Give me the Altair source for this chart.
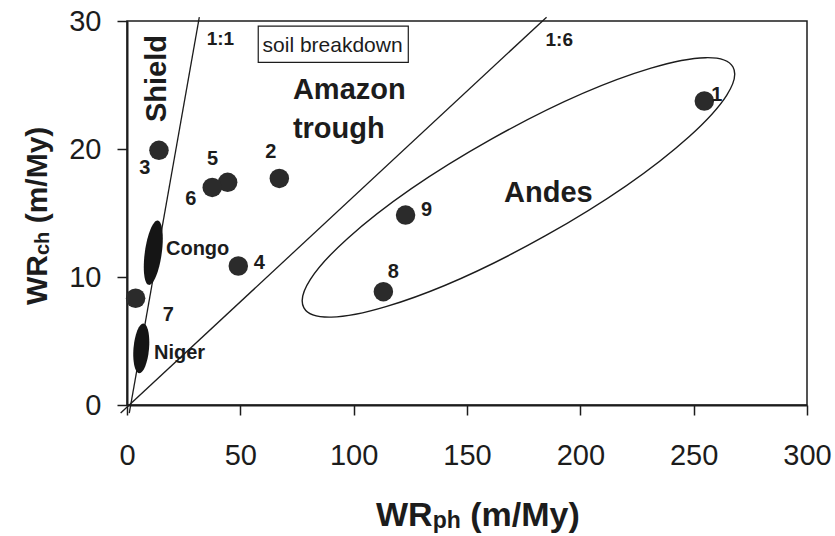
import altair as alt
import pandas as pd

# ---------------- data ----------------
site_ids = ["1", "2", "3", "4", "5", "6", "7", "8", "9"]
wr_ph = [254.7, 67.2, 14.1, 49.1, 44.4, 37.6, 3.8, 113.1, 122.9]
wr_ch = [23.75, 17.7, 19.9, 10.86, 17.4, 17.0, 8.34, 8.85, 14.84]

# where each site number is written (data units)
label_ph = [260.2, 63.5, 7.9, 58.4, 37.8, 28.1, 18.2, 117.5, 132.2]
label_ch = [24.2, 19.8, 18.5, 11.1, 19.2, 16.1, 7.0, 10.4, 15.2]

# reference ratio lines
ref_names = ["1:1", "1:6"]
ref_ph_start = [1.0, -2.8]
ref_ch_start = [-0.63, -0.63]
ref_ph_end = [31.9, 185.1]
ref_ch_end = [30.3, 30.3]
ref_label_ph = [41.2, 190.7]
ref_label_ch = [28.1, 28.07]

# river fields (ellipses) and their labels
river_names = ["Congo", "Niger"]
river_ph = [11.6, 6.3]
river_ch = [11.9, 4.43]
river_label_ph = [17.2, 11.9]
river_label_ch = [12.16, 4.04]

# Andes field
andes_ph = [172.7]
andes_ch = [17.0]

# region names
region_names = ["Amazon", "trough", "Andes"]
region_ph = [73.2, 73.2, 185.9]
region_ch = [23.88, 20.88, 15.88]

shield_ph = [17.0]
shield_ch = [25.5]

box_text = ["soil breakdown"]
box_ph = [57.9]
box_ph2 = [124.1]
box_ch = [29.6]
box_ch2 = [26.77]
box_text_ph = [90.7]
box_text_ch = [27.6]

x_ticks = [0, 50, 100, 150, 200, 250, 300]
y_ticks = [0, 10, 20, 30]

# ---------------- styling ----------------
INK = "#1c1c1c"
DOT = "#2b2b2b"
FONT = "Liberation Sans"

xs = alt.Scale(domain=[0, 300], nice=False, zero=False)
ys = alt.Scale(domain=[0, 30], nice=False, zero=False)
x_axis = alt.Axis(values=x_ticks, title=None, grid=False, tickSize=10, tickWidth=1.5,
                  domainWidth=2, domainColor=INK, tickColor=INK, labelFont=FONT,
                  labelFontSize=29, labelColor=INK, labelPadding=26, labelFlush=False,
                  labelOverlap=False)
y_axis = alt.Axis(values=y_ticks, title=None, grid=False, tickSize=10, tickWidth=1.5,
                  domainWidth=2, domainColor=INK, tickColor=INK, labelFont=FONT,
                  labelFontSize=29, labelColor=INK, labelPadding=16, labelFlush=False,
                  labelOverlap=False)


def X(f):
    return alt.X(f, type="quantitative", scale=xs, axis=x_axis)


def Y(f):
    return alt.Y(f, type="quantitative", scale=ys, axis=y_axis)


def ellipse_path(rx, ry):
    k = 0.5523
    return (f"M{-rx},0 C{-rx},{-k*ry} {-k*rx},{-ry} 0,{-ry} "
            f"C{k*rx},{-ry} {rx},{-k*ry} {rx},0 "
            f"C{rx},{k*ry} {k*rx},{ry} 0,{ry} "
            f"C{-k*rx},{ry} {-rx},{k*ry} {-rx},0 Z")


pts = pd.DataFrame({"id": site_ids, "ph": wr_ph, "ch": wr_ch,
                    "lph": label_ph, "lch": label_ch})
refs = pd.DataFrame({"name": ref_names, "x1": ref_ph_start, "y1": ref_ch_start,
                     "x2": ref_ph_end, "y2": ref_ch_end,
                     "lx": ref_label_ph, "ly": ref_label_ch})
rivers = pd.DataFrame({"name": river_names, "ph": river_ph, "ch": river_ch,
                       "lx": river_label_ph, "ly": river_label_ch})
andes = pd.DataFrame({"ph": andes_ph, "ch": andes_ch})
regions = pd.DataFrame({"name": region_names, "ph": region_ph, "ch": region_ch})
shield = pd.DataFrame({"name": ["Shield"], "ph": shield_ph, "ch": shield_ch})
box = pd.DataFrame({"t": box_text, "x1": box_ph, "x2": box_ph2, "y1": box_ch,
                    "y2": box_ch2, "tx": box_text_ph, "ty": box_text_ch})
one = pd.DataFrame({"k": [0]})

ref_lines = alt.Chart(refs).mark_rule(color=INK, strokeWidth=1.3).encode(
    x=X("x1"), y=Y("y1"), x2="x2", y2="y2")
ref_text = alt.Chart(refs).mark_text(font=FONT, fontSize=19, fontWeight="bold",
                                     color=INK, baseline="alphabetic").encode(
    x=X("lx"), y=Y("ly"), text="name")

congo = alt.Chart(rivers.iloc[[0]]).mark_point(
    shape=ellipse_path(0.26, 1), size=4225, filled=True, fill="#151515",
    opacity=1, strokeWidth=0, angle=8).encode(x=X("ph"), y=Y("ch"))
niger = alt.Chart(rivers.iloc[[1]]).mark_point(
    shape=ellipse_path(0.31, 1), size=2500, filled=True, fill="#151515",
    opacity=1, strokeWidth=0, angle=5).encode(x=X("ph"), y=Y("ch"))
river_text = alt.Chart(rivers).mark_text(font=FONT, fontSize=20, fontWeight="bold",
                                         color=INK, align="left",
                                         baseline="middle").encode(
    x=X("lx"), y=Y("ly"), text="name")

andes_shape = alt.Chart(andes).mark_point(
    shape=ellipse_path(1, 0.225), size=242064, filled=False, stroke=INK,
    strokeWidth=1.4, opacity=1, angle=330.7).encode(x=X("ph"), y=Y("ch"))

points = alt.Chart(pts).mark_circle(size=380, color=DOT, opacity=1).encode(
    x=X("ph"), y=Y("ch"))
point_text = alt.Chart(pts).mark_text(font=FONT, fontSize=20, fontWeight="bold",
                                      color=INK, baseline="middle").encode(
    x=X("lph"), y=Y("lch"), text="id")

region_left = alt.Chart(regions.iloc[0:2]).mark_text(
    font=FONT, fontSize=29, fontWeight="bold", color=INK, align="left",
    baseline="alphabetic").encode(x=X("ph"), y=Y("ch"), text="name")
region_center = alt.Chart(regions.iloc[[2]]).mark_text(
    font=FONT, fontSize=29, fontWeight="bold", color=INK, align="center",
    baseline="alphabetic").encode(x=X("ph"), y=Y("ch"), text="name")
shield_text = alt.Chart(shield).mark_text(
    font=FONT, fontSize=29, fontWeight="bold", color=INK, align="center",
    baseline="alphabetic", angle=270).encode(x=X("ph"), y=Y("ch"), text="name")

box_rect = alt.Chart(box).mark_rect(fill="white", stroke=INK, strokeWidth=1.2).encode(
    x=X("x1"), x2="x2", y=Y("y1"), y2="y2")
box_label = alt.Chart(box).mark_text(font=FONT, fontSize=21, color=INK,
                                     baseline="alphabetic").encode(
    x=X("tx"), y=Y("ty"), text="t")

# ---------------- axis titles with subscripts ----------------
ARIAL_BOLD = {"W": 0.944, "R": 0.722, "p": 0.611, "h": 0.611, "c": 0.556,
              " ": 0.278, "(": 0.333, "m": 0.889, "/": 0.278, "M": 0.833,
              "y": 0.556, ")": 0.333}


def tw(s, size):
    return sum(ARIAL_BOLD[c] for c in s) * size


def part(txt, px, py, size, angle=0):
    kw = dict(font=FONT, fontSize=size, fontWeight="bold", color=INK,
              align="left", baseline="alphabetic")
    if angle:
        kw["angle"] = angle
    return alt.Chart(one).mark_text(**kw).encode(
        x=alt.value(px), y=alt.value(py), text=alt.value(txt))


XF, XS = 34, 23
x0, xb = 249, 505
xa = x0 + tw("WR", XF)
xc = xa + tw("ph", XS) + tw(" ", XF)
xt = [part("WR", x0, xb, XF),
      part("ph", xa, xb + 2, XS),
      part("(m/My)", xc, xb, XF)]

YF, YS = 30, 20
yb, y0 = -80, 284
ya = y0 - tw("WR", YF)
yc = ya - tw("ch", YS) - tw(" ", YF)
yt = [part("WR", yb, y0, YF, 270),
      part("ch", yb + 2, ya, YS, 270),
      part("(m/My)", yb, yc, YF, 270)]

chart = alt.layer(
    ref_lines, andes_shape, congo, niger, points, point_text, ref_text,
    river_text, region_left, region_center, shield_text, box_rect, box_label,
    *xt, *yt
).properties(
    width=680, height=384,
    padding={"left": 127, "top": 21, "right": 28, "bottom": 131},
    autosize=alt.AutoSizeParams(type="none"),
    background="white",
).configure_view(stroke=INK, strokeWidth=1.5)

chart.save("out.html", embed_options={"renderer": "svg", "actions": False})
